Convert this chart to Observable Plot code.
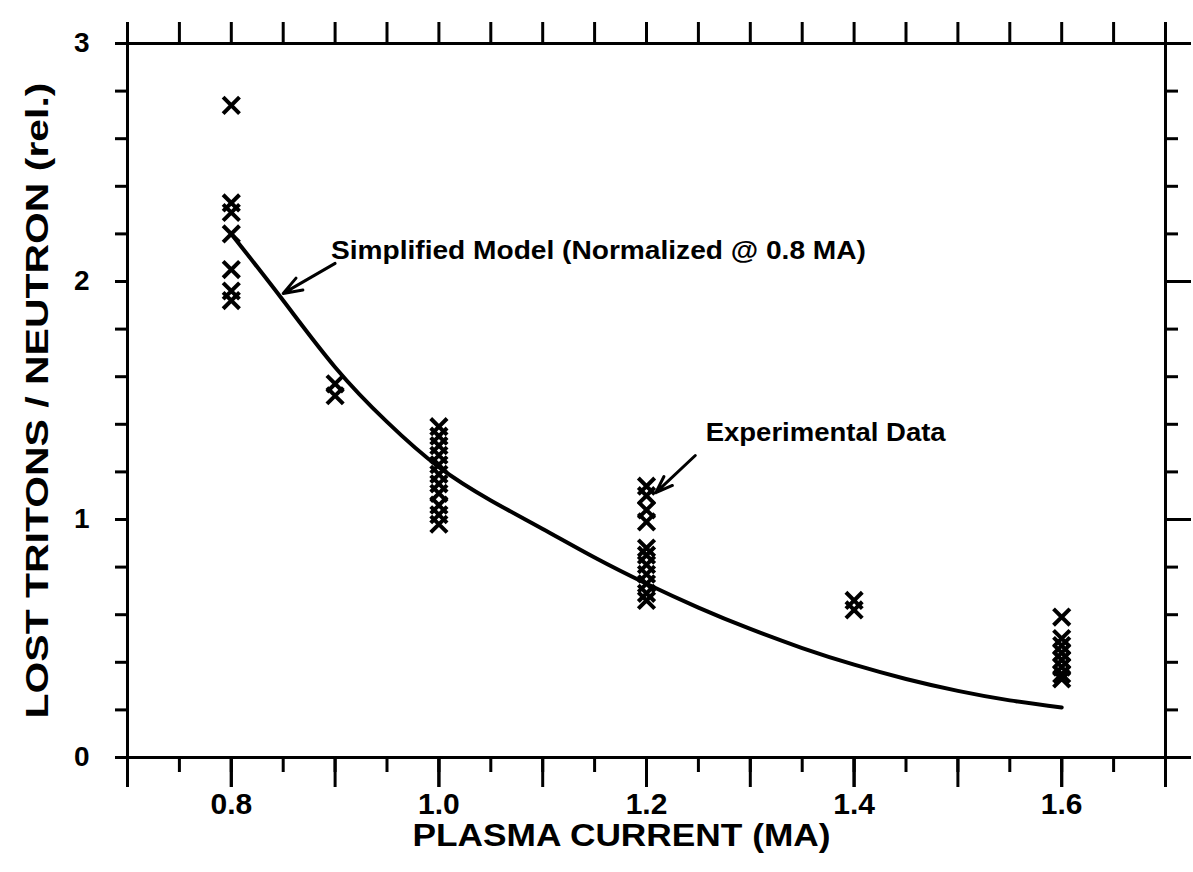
<!DOCTYPE html>
<html><head><meta charset="utf-8">
<script src="https://cdn.jsdelivr.net/npm/d3@7"></script>
<script src="https://cdn.jsdelivr.net/npm/@observablehq/plot@0.6"></script>
<style>body{margin:0;background:#fff} svg{display:block}</style>
</head><body><div id="chart"></div>
<script>
// Experimental data: plasma current (MA) and lost tritons per neutron (rel.)
const expCurrent = [
  0.8,0.8,0.8,0.8,0.8,0.8,0.8,
  0.9,0.9,
  1.0,1.0,1.0,1.0,1.0,1.0,1.0,1.0,1.0,1.0,1.0,
  1.2,1.2,1.2,1.2,1.2,1.2,1.2,1.2,1.2,1.2,1.2,
  1.4,1.4,
  1.6,1.6,1.6,1.6,1.6,1.6,1.6,1.6
];
const expLost = [
  2.74,2.33,2.29,2.20,2.05,1.96,1.92,
  1.57,1.52,
  1.39,1.35,1.31,1.27,1.23,1.19,1.15,1.11,1.06,1.02,0.98,
  1.14,1.10,1.04,0.99,0.88,0.85,0.81,0.77,0.73,0.69,0.66,
  0.66,0.62,
  0.59,0.50,0.47,0.44,0.41,0.38,0.35,0.33
];
// Simplified model curve (normalized @ 0.8 MA)
const modelCurrent = [0.8,0.85,0.9,0.95,1.0,1.05,1.1,1.15,1.2,1.25,1.3,1.35,1.4,1.45,1.5,1.55,1.6];
const modelLost    = [2.20,1.92,1.64,1.41,1.22,1.08,0.96,0.84,0.73,0.63,0.54,0.46,0.39,0.33,0.28,0.24,0.21];

// Tick values / labels
const xMinorTicks = [0.7,0.75,0.8,0.85,0.9,0.95,1.0,1.05,1.1,1.15,1.2,1.25,1.3,1.35,1.4,1.45,1.5,1.55,1.6,1.65,1.7];
const xMajorTicks = [0.7,0.8,0.9,1.0,1.1,1.2,1.3,1.4,1.5,1.6,1.7];
const xLabelTicks = [0.8,1.0,1.2,1.4,1.6];
const yMinorTicks = [0,0.2,0.4,0.6,0.8,1,1.2,1.4,1.6,1.8,2,2.2,2.4,2.6,2.8,3];
const yMajorTicks = [0,1,2,3];

const xLabel = "PLASMA CURRENT (MA)";
const yLabel = "LOST TRITONS / NEUTRON (rel.)";

// Annotations
const annoText = ["Simplified Model (Normalized @ 0.8 MA)", "Experimental Data"];
const annoX = [0.896, 1.257];
const annoY = [2.13, 1.366];
const arrowX1 = [0.900, 1.247];
const arrowY1 = [2.076, 1.269];
const arrowX2 = [0.850, 1.209];
const arrowY2 = [1.950, 1.113];

const points = expCurrent.map((x, i) => ({x, y: expLost[i]}));
const model = modelCurrent.map((x, i) => ({x, y: modelLost[i]}));
const annos = annoText.map((t, i) => ({t, x: annoX[i], y: annoY[i]}));
const arrows = arrowX1.map((x1, i) => ({x1, y1: arrowY1[i], x2: arrowX2[i], y2: arrowY2[i]}));

const FONT = "'Liberation Sans', Arial, Helvetica, sans-serif";
const blank = () => "";

const chart = Plot.plot({
  width: 1193,
  height: 872,
  marginLeft: 127,
  marginRight: 28,
  marginTop: 43,
  marginBottom: 115,
  x: {domain: [0.7, 1.7]},
  y: {domain: [0, 3]},
  style: {fontFamily: FONT, color: "black", background: "white"},
  marks: [
    // bottom axis
    Plot.axisX(xMinorTicks, {anchor: "bottom", tickSize: 15, strokeWidth: 3, tickFormat: blank, label: null}),
    Plot.axisX(xMajorTicks, {anchor: "bottom", tickSize: 30, strokeWidth: 3, tickFormat: blank, label: null}),
    Plot.axisX(xLabelTicks, {anchor: "bottom", tickSize: 30, strokeWidth: 3, tickPadding: 5, tickFormat: d => d.toFixed(1),
      fontSize: 30, fontWeight: "bold", label: null}),
    // top axis
    Plot.axisX(xMinorTicks, {anchor: "top", tickSize: 22, strokeWidth: 3, tickFormat: blank, label: null}),
    // left axis
    Plot.axisY(yMinorTicks, {anchor: "left", tickSize: 12, strokeWidth: 3, tickFormat: blank, label: null}),
    Plot.axisY(yMajorTicks, {anchor: "left", tickSize: 12, strokeWidth: 3, tickPadding: 26, tickFormat: d => String(d),
      fontSize: 28, fontWeight: "bold", label: null}),
    // right axis
    Plot.axisY(yMinorTicks, {anchor: "right", tickSize: 12, strokeWidth: 3, tickFormat: blank, label: null}),
    Plot.axisY(yMajorTicks, {anchor: "right", tickSize: 25, strokeWidth: 3, tickFormat: blank, label: null}),
    Plot.frame({stroke: "black", strokeWidth: 3}),
    // model curve
    Plot.line(model, {x: "x", y: "y", curve: "natural", stroke: "black", strokeWidth: 4}),
    // experimental data
    Plot.dot(points, {x: "x", y: "y", symbol: "times", r: 7.5, stroke: "black", strokeWidth: 4}),
    // annotations
    Plot.arrow(arrows, {x1: "x1", y1: "y1", x2: "x2", y2: "y2", stroke: "black", strokeWidth: 3, headLength: 18, headAngle: 40}),
    Plot.text(annos, {x: "x", y: "y", text: "t", textAnchor: "start", fontSize: 26, fontWeight: "bold", fill: "black"}),
    // axis labels
    Plot.text([xLabel], {frameAnchor: "bottom-left", textAnchor: "start", dx: 285, dy: 88, text: d => d, fontSize: 32, fontWeight: "bold", fill: "black"}),
    Plot.text([yLabel], {frameAnchor: "bottom-left", textAnchor: "start", dx: -80, dy: -39, rotate: -90, text: d => d, fontSize: 32, fontWeight: "bold", fill: "black"})
  ]
});

// Condense the long texts to the widths they have in the original figure
const fitWidths = new Map([[xLabel, 418], [yLabel, 636], [annoText[0], 535], [annoText[1], 240]]);
d3.select(chart).selectAll("text").each(function() {
  const w = fitWidths.get(this.textContent);
  if (w) {
    this.setAttribute("textLength", w);
    this.setAttribute("lengthAdjust", "spacingAndGlyphs");
  }
});
document.getElementById("chart").appendChild(chart);
</script></body></html>
